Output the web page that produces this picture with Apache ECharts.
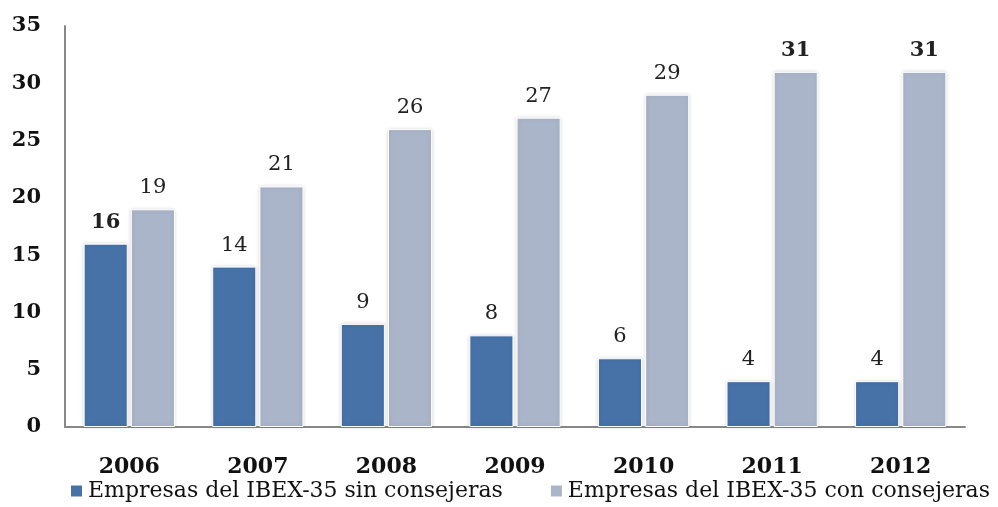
<!DOCTYPE html>
<html><head><meta charset="utf-8">
<script src="https://cdn.jsdelivr.net/npm/echarts@6/dist/echarts.min.js"></script>
<style>html,body{margin:0;padding:0;background:#fff}#c{width:998px;height:507px}</style>
</head><body><div id="c"></div>
<script>
const categories = ['2006','2007','2008','2009','2010','2011','2012'];
const sinConsejeras = [16,14,9,8,6,4,4];
const conConsejeras = [19,21,26,27,29,31,31];
const seriesNames = ['Empresas del IBEX-35 sin consejeras','Empresas del IBEX-35 con consejeras'];
const boldSin = [true,false,false,false,false,false,false];
const boldCon = [false,false,false,false,false,true,true];

const font = '"DejaVu Serif", serif';
function items(vals, bolds){
  return vals.map((v,i)=>({value:v, label:{fontWeight: bolds[i]?'bold':'normal'}}));
}
const chart = echarts.init(document.getElementById('c'));
chart.setOption({
  animation:false,
  grid:{left:65, right:33, top:26, bottom:80},
  legend:{
    bottom:5, left:69, width:929, padding:0, itemWidth:13, itemHeight:13, itemGap:46,
    textStyle:{fontFamily:font, fontSize:22, color:'#111'},
    icon:'rect'
  },
  xAxis:{
    type:'category', data:categories,
    axisLine:{lineStyle:{color:'#888', width:2}},
    axisTick:{show:false},
    axisLabel:{fontFamily:font, fontSize:22, fontWeight:'bold', color:'#111', margin:29}
  },
  yAxis:{
    type:'value', min:0, max:35, interval:5,
    axisLine:{show:true, lineStyle:{color:'#888', width:2}},
    axisTick:{show:false},
    splitLine:{show:false},
    axisLabel:{fontFamily:font, fontSize:21, fontWeight:'bold', color:'#111', margin:24}
  },
  series:[
    {name:seriesNames[0], type:'bar', data:items(sinConsejeras, boldSin),
     barGap:'7%', barCategoryGap:'29%',
     itemStyle:{color:'#4672a8', borderColor:'#fff', borderWidth:1, shadowColor:'rgba(0,0,0,0.15)', shadowBlur:4},
     label:{show:true, position:'top', distance:11, fontFamily:font, fontSize:21, color:'#222'}},
    {name:seriesNames[1], type:'bar', data:items(conConsejeras, boldCon),
     itemStyle:{color:'#aab5c9', borderColor:'#fff', borderWidth:1, shadowColor:'rgba(0,0,0,0.15)', shadowBlur:4},
     label:{show:true, position:'top', distance:11, fontFamily:font, fontSize:21, color:'#222'}}
  ]
});
</script></body></html>
